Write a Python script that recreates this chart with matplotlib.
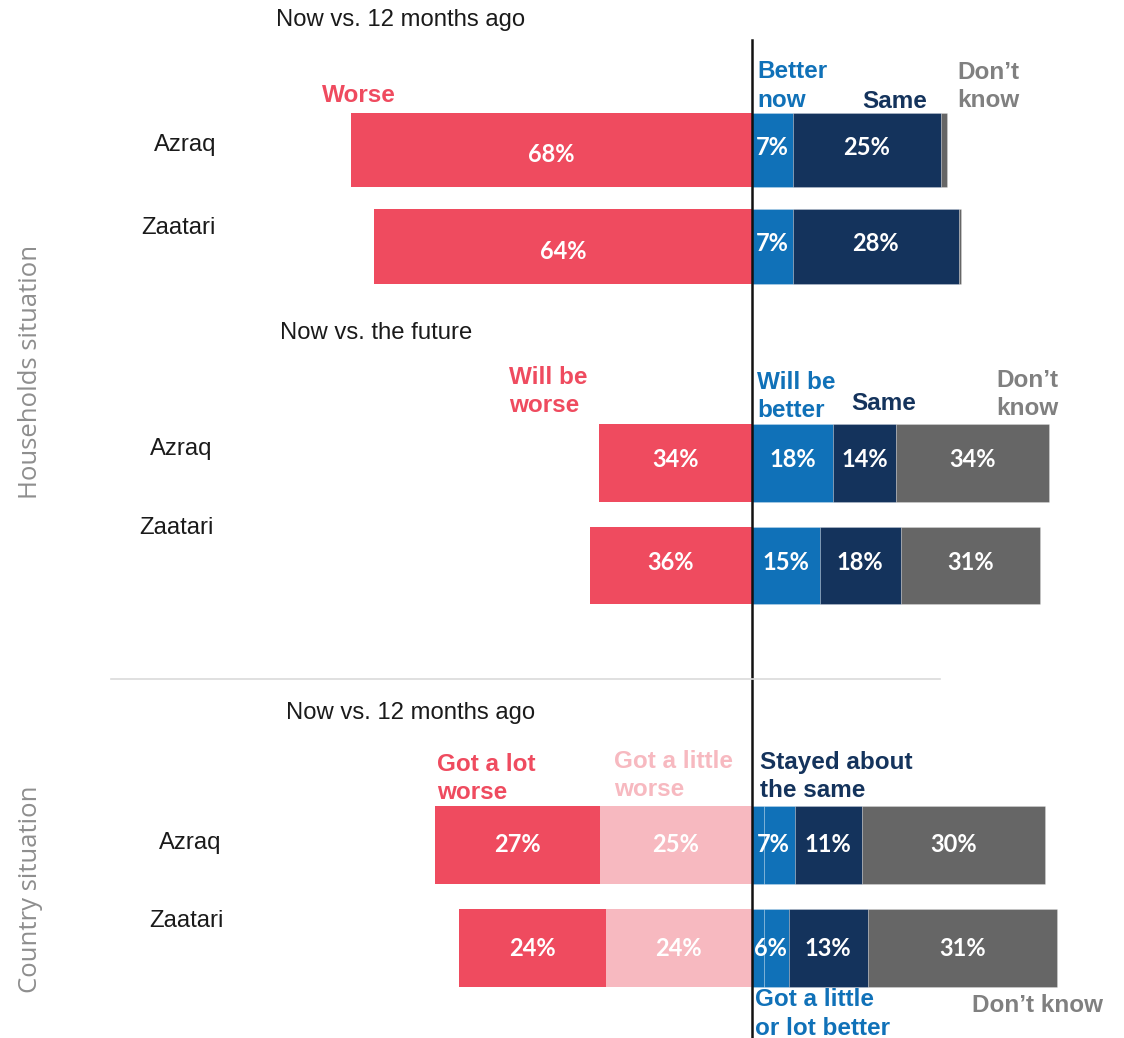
import matplotlib
matplotlib.use("Agg")
import matplotlib.pyplot as plt
from matplotlib.lines import Line2D

# ---- data ----
camps = ["Azraq", "Zaatari"]

# Households situation: now vs. 12 months ago
hh_past_worse = [68, 64]
hh_past_better = [7, 7]
hh_past_same = [25, 28]
hh_past_dk = [1, 0.5]

# Households situation: now vs. the future
hh_future_worse = [34, 36]
hh_future_better = [18, 15]
hh_future_same = [14, 18]
hh_future_dk = [34, 31]

# Country situation: now vs. 12 months ago
cty_lot_worse = [27, 24]
cty_little_worse = [25, 24]
cty_lot_better = [2, 2]
cty_little_better = [5, 4]
cty_same = [11, 13]
cty_dk = [30, 31]

# ---- style ----
RED = "#EF4B5F"
PINK = "#F7B9C0"
BLUE = "#1071B8"
NAVY = "#14335C"
GREY = "#666666"
DK_TXT = "#808080"
SIDE = "#8E8E8E"

W, H = 1124, 1038
ZERO_PX = 752

fig = plt.figure(figsize=(W / 100, H / 100), dpi=100)
fig.patch.set_facecolor("white")


def fxy(x, y):
    return x / W, 1 - y / H


def ftext(x, y, s, **kw):
    fx, fy = fxy(x, y)
    fig.text(fx, fy, s, **kw)


def section_axes(px_per_pct, c0, c1):
    """Full-figure transparent axes; x in percent with 0 at the centre line,
    y in category index placed at the given pixel centres."""
    ax = fig.add_axes([0, 0, 1, 1])
    ax.set_facecolor("none")
    ax.set_xlim(-ZERO_PX / px_per_pct, (W - ZERO_PX) / px_per_pct)
    d = c1 - c0
    ax.set_ylim((H - c0) / d, -c0 / d)
    ax.axis("off")
    return ax


EDGE = dict(edgecolor=(1, 1, 1, 0.3), linewidth=0.5)


def value_label(ax, x, i, v, dy=0.0):
    ax.text(x, i + dy, f"{v:g}%", ha="center", va="center", color="white",
            fontsize=17, fontweight="bold", family=["Lato", "DejaVu Sans"])


LABEL_FONT = dict(family=["Liberation Sans", "DejaVu Sans"])

# ---- section 1 ----
ax1 = section_axes(5.9, 150, 246.5)
h1 = 0.77
for i in range(2):
    w = hh_past_worse[i]
    ax1.barh(i, -w, left=0, height=h1, color=RED)
    value_label(ax1, -w / 2, i, w, dy=0.05)
    x = 0
    for vals, col in [(hh_past_better, BLUE), (hh_past_same, NAVY), (hh_past_dk, GREY)]:
        v = vals[i]
        ax1.barh(i, v, left=x, height=h1, color=col, **EDGE)
        if col != GREY:
            value_label(ax1, x + v / 2, i, v, dy=-0.03)
        x += v

# ---- section 2 ----
ax2 = section_axes(4.5, 463, 565.5)
h2 = 0.76
for i in range(2):
    w = hh_future_worse[i]
    ax2.barh(i, -w, left=0, height=h2, color=RED)
    value_label(ax2, -w / 2, i, w, dy=-0.03)
    x = 0
    for vals, col in [(hh_future_better, BLUE), (hh_future_same, NAVY), (hh_future_dk, GREY)]:
        v = vals[i]
        ax2.barh(i, v, left=x, height=h2, color=col, **EDGE)
        value_label(ax2, x + v / 2, i, v, dy=-0.03)
        x += v

# ---- section 3 ----
ax3 = section_axes(6.1, 845, 948)
h3 = 0.757
for i in range(2):
    a, b = cty_lot_worse[i], cty_little_worse[i]
    ax3.barh(i, -b, left=0, height=h3, color=PINK)
    ax3.barh(i, -a, left=-b, height=h3, color=RED)
    value_label(ax3, -b / 2, i, b)
    value_label(ax3, -b - a / 2, i, a)
    x = 0
    for vals, col in [(cty_lot_better, BLUE), (cty_little_better, BLUE)]:
        v = vals[i]
        ax3.barh(i, v, left=x, height=h3, color=col, **EDGE)
        x += v
    better = cty_lot_better[i] + cty_little_better[i]
    value_label(ax3, better / 2, i, better)
    for vals, col in [(cty_same, NAVY), (cty_dk, GREY)]:
        v = vals[i]
        ax3.barh(i, v, left=x, height=h3, color=col, **EDGE)
        value_label(ax3, x + v / 2, i, v)
        x += v

# ---- centre line ----
zx = fig.transFigure.inverted().transform(ax1.transData.transform((0, 0)))[0]
fig.add_artist(Line2D([zx, zx], [fxy(0, 40)[1], 0], color="#111111", lw=1.8))

# ---- separator ----
fig.add_artist(Line2D([111 / W, 940 / W], [fxy(0, 679)[1]] * 2, color="#DADADA", lw=1.2))

# ---- section titles ----
for x, y, s in [(276, 20, "Now vs. 12 months ago"),
                (280, 333, "Now vs. the future"),
                (286, 713, "Now vs. 12 months ago")]:
    ftext(x, y, s, ha="left", va="center", fontsize=17.2, color="#1a1a1a", **LABEL_FONT)

# ---- camp labels ----
for x, y, s in [(216, 145, "Azraq"), (216, 228, "Zaatari"),
                (212, 449, "Azraq"), (214, 528, "Zaatari"),
                (221, 843, "Azraq"), (224, 921, "Zaatari")]:
    ftext(x, y, s, ha="right", va="center", fontsize=17.2, color="#1a1a1a", **LABEL_FONT)

# ---- side labels ----
ftext(31, 372, "Households situation", rotation=90, ha="center", va="center",
      fontsize=18.5, color=SIDE, family=["Open Sans", "DejaVu Sans"])
ftext(31, 889, "Country situation", rotation=90, ha="center", va="center",
      fontsize=18.5, color=SIDE, family=["Open Sans", "DejaVu Sans"])

# ---- response labels ----
resp = [
    (322, 96, "Worse", RED),
    (757, 86, "Better\nnow", BLUE),
    (862, 102, "Same", NAVY),
    (957, 86.5, "Don\u2019t\nknow", DK_TXT),
    (509, 391.5, "Will be\nworse", RED),
    (757, 396.5, "Will be\nbetter", BLUE),
    (851, 403, "Same", NAVY),
    (996, 394.5, "Don\u2019t\nknow", DK_TXT),
    (437, 778.5, "Got a lot\nworse", RED),
    (614, 775.5, "Got a little\nworse", PINK),
    (760, 776.5, "Stayed about\nthe same", NAVY),
    (755, 1014, "Got a little\nor lot better", BLUE),
    (972, 1005, "Don\u2019t know", DK_TXT),
]
for x, y, s, c in resp:
    ftext(x, y, s, ha="left", va="center", fontsize=17.5, fontweight="bold",
          color=c, linespacing=1.28, **LABEL_FONT)

fig.savefig("out.png", dpi=100, facecolor="white")
